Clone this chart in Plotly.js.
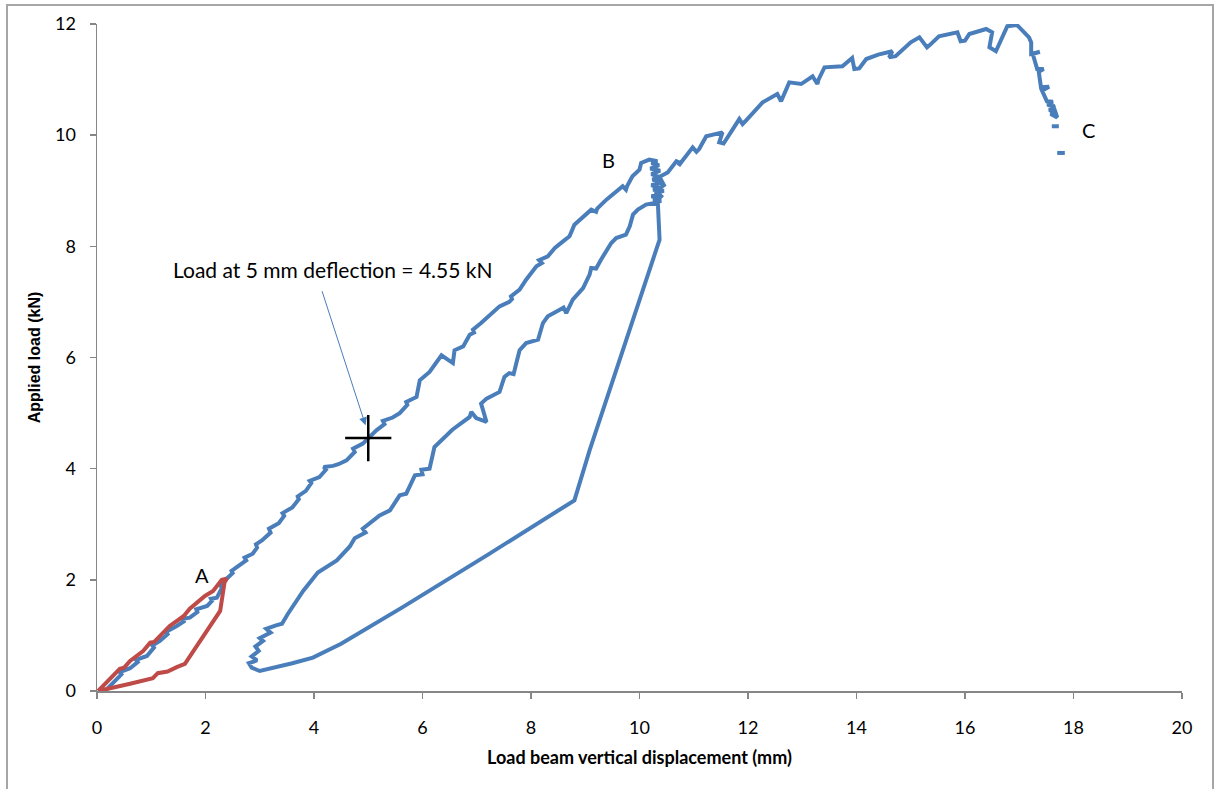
<!DOCTYPE html>
<html>
<head>
<meta charset="utf-8">
<script src="https://cdn.plot.ly/plotly-3.0.1.min.js"></script>
<style>
  html, body { margin: 0; padding: 0; background: #ffffff; overflow: hidden; }
  #chart { width: 1214px; height: 789px; }
  #frame { position: absolute; left: 6px; top: 4px; width: 1204px; height: 800px;
           border: 2px solid #a6a6a6; pointer-events: none; }
</style>
</head>
<body>
<div id="chart"></div>
<div id="frame"></div>
<script>
// ---- Data ----
// Main test (blue): load to B, unload, reload, load to peak and C
const blueX = [0.15,0.37,0.45,0.42,0.61,0.75,0.72,0.92,1.05,1.02,1.16,1.3,1.27,1.47,1.6,1.58,1.71,1.85,1.83,2.03,2.12,2.1,2.21,2.3,2.28,2.39,2.5,2.48,2.63,2.75,2.72,2.87,2.95,2.93,3.04,3.2,3.17,3.35,3.45,3.42,3.6,3.72,3.7,3.85,3.95,3.92,4.1,4.22,4.18,4.35,4.45,4.6,4.75,4.72,4.9,5.0,5.15,5.3,5.27,5.45,5.58,5.72,5.7,5.89,5.95,6.13,6.35,6.56,6.59,6.75,6.87,6.95,6.93,7.08,7.27,7.42,7.6,7.65,7.63,7.79,7.91,8.1,8.2,8.15,8.31,8.44,8.59,8.71,8.8,8.9,9.11,9.2,9.22,9.39,9.57,9.69,9.75,9.77,9.87,10.0,10.03,10.18,10.33,
  10.22,10.36,10.2,10.38,10.22,10.36,10.24,10.42,10.22,10.36,10.25,10.45,10.28,10.38,10.22,10.36,10.25,10.4,10.26,10.34,
  10.37,9.08,8.8,7.2,5.62,4.5,3.98,3.6,3.19,3.0,2.85,2.8,2.95,2.85,2.98,2.92,3.06,3.0,3.2,3.12,3.3,3.41,3.52,3.8,4.07,4.42,4.66,4.75,4.95,4.9,5.21,5.4,5.58,5.7,5.86,6.0,5.98,6.13,6.22,6.5,6.55,6.87,6.9,6.99,7.18,7.08,7.18,7.42,7.51,7.6,7.68,7.73,7.79,7.91,8.13,8.22,8.31,8.53,8.6,8.65,8.77,8.96,9.08,9.11,9.2,9.29,9.48,9.57,9.75,9.82,9.88,9.97,10.12,10.28,10.4,10.3,10.45,10.37,
  10.52,10.68,10.75,10.72,10.98,11.05,11.1,11.23,11.53,11.47,11.55,11.84,11.9,11.95,12.27,12.54,12.61,12.65,12.76,12.98,13.19,13.28,13.3,13.41,13.74,13.92,13.96,14.05,14.18,14.4,14.66,14.6,14.72,15.0,15.16,15.3,15.35,15.52,15.86,15.92,16.0,16.08,16.39,16.5,16.45,16.57,16.67,16.78,16.96,17.18,17.22,17.22,17.38,17.25,17.33,17.45,17.36,17.4,17.55,17.42,17.51,17.62,17.52,17.66,17.55,17.68,17.58,17.7,17.62,
  null,17.6,17.73,null,17.7,17.84];
const blueY = [0,0.23,0.3,0.34,0.41,0.52,0.56,0.63,0.78,0.82,0.9,1.02,1.06,1.17,1.25,1.3,1.32,1.42,1.47,1.53,1.62,1.66,1.68,1.85,1.9,2.02,2.12,2.16,2.26,2.35,2.4,2.47,2.58,2.64,2.71,2.85,2.92,3.02,3.15,3.2,3.3,3.45,3.5,3.6,3.74,3.78,3.85,3.98,4.03,4.05,4.08,4.15,4.3,4.36,4.45,4.55,4.69,4.8,4.86,4.92,5.0,5.15,5.2,5.29,5.59,5.74,6.04,5.9,6.13,6.2,6.41,6.45,6.5,6.62,6.8,6.92,7.0,7.05,7.1,7.22,7.4,7.64,7.7,7.75,7.82,7.97,8.09,8.18,8.39,8.48,8.66,8.62,8.68,8.84,8.99,9.08,9.02,9.08,9.26,9.38,9.5,9.56,9.53,
  9.5,9.46,9.4,9.36,9.3,9.25,9.2,9.15,9.1,9.05,9.02,9.0,8.96,8.93,8.9,8.87,8.84,8.82,8.78,8.75,
  8.12,4.33,3.43,2.45,1.5,0.85,0.6,0.5,0.4,0.36,0.42,0.5,0.55,0.62,0.72,0.8,0.9,0.95,1.05,1.12,1.18,1.21,1.39,1.8,2.13,2.35,2.6,2.75,2.85,2.92,3.16,3.25,3.52,3.55,3.88,3.9,3.98,4.0,4.39,4.64,4.7,4.93,5.02,4.91,4.84,5.17,5.26,5.38,5.65,5.72,5.7,5.9,6.13,6.26,6.32,6.62,6.74,6.86,6.9,6.8,7.04,7.25,7.49,7.61,7.6,7.76,8.06,8.15,8.21,8.36,8.57,8.66,8.75,8.78,8.9,9.0,9.1,9.25,
  9.33,9.53,9.5,9.45,9.78,9.7,9.75,9.98,10.05,9.87,9.85,10.29,10.2,10.25,10.59,10.74,10.61,10.7,10.95,10.92,11.06,10.92,11.0,11.22,11.24,11.39,11.19,11.2,11.37,11.45,11.51,11.4,11.42,11.67,11.76,11.58,11.62,11.78,11.85,11.69,11.7,11.82,11.91,11.85,11.58,11.51,11.73,11.96,11.98,11.76,11.67,11.46,11.5,11.46,11.19,11.19,11.14,10.86,10.87,10.8,10.61,10.6,10.55,10.5,10.45,10.42,10.38,10.32,10.55,
  null,10.16,10.16,null,9.68,9.68];

// First cycle (red): load to A and unload
const redX = [0.02,0.3,0.42,0.5,0.61,0.85,0.98,1.05,1.2,1.34,1.53,1.6,1.71,1.99,2.14,2.3,2.39,2.35,2.27,1.62,1.47,1.3,1.12,1.03,0.61,0.15,0.02];
const redY = [0,0.27,0.4,0.42,0.54,0.72,0.87,0.88,1.03,1.17,1.3,1.35,1.48,1.71,1.8,2.0,2.02,1.95,1.44,0.49,0.43,0.35,0.32,0.23,0.13,0.02,0];

// Marked point: load at 5 mm deflection
const markX = [5];
const markY = [4.55];

// Axes
const xTicks = [0,2,4,6,8,10,12,14,16,18,20];
const yTicks = [0,2,4,6,8,10,12];

// Labels
const pointLabels = [
  {text: 'A', x: 1.93, y: 2.09},
  {text: 'B', x: 9.43, y: 9.56},
  {text: 'C', x: 18.27, y: 10.1}
];
const noteText = 'Load at 5 mm deflection = 4.55 kN';
const notePos = {x: 4.35, y: 7.58};
const arrowTail = {x: 4.14, y: 7.22};
const arrowHead = {x: 4.95, y: 4.78};

// ---- Chart ----
const BLUE = '#4a7ebb';
const RED = '#be4b48';
const AXIS = '#868686';
const FONT = 'Lato, "Liberation Sans", sans-serif';

const traces = [
  {x: blueX, y: blueY, type: 'scatter', mode: 'lines', connectgaps: false,
   line: {color: BLUE, width: 4, shape: 'linear'}, hoverinfo: 'skip'},
  {x: redX, y: redY, type: 'scatter', mode: 'lines',
   line: {color: RED, width: 4}, hoverinfo: 'skip'},
  {x: markX, y: markY, type: 'scatter', mode: 'markers',
   marker: {symbol: 'cross-thin', size: 33, color: '#000000', line: {color: '#000000', width: 2.5}},
   hoverinfo: 'skip'}
];

const annotations = pointLabels.map(p => ({
  x: p.x, y: p.y, xref: 'x', yref: 'y', text: p.text, showarrow: false,
  font: {family: FONT, size: 20, color: '#000000'}
}));
annotations.push({
  x: notePos.x, y: notePos.y, xref: 'x', yref: 'y', text: noteText, showarrow: false,
  font: {family: FONT, size: 21, color: '#000000'}
});
annotations.push({
  x: arrowHead.x, y: arrowHead.y, xref: 'x', yref: 'y',
  ax: arrowTail.x, ay: arrowTail.y, axref: 'x', ayref: 'y',
  text: '', showarrow: true, arrowhead: 2, arrowsize: 1.6, arrowwidth: 1,
  arrowcolor: BLUE, standoff: 0
});

const layout = {
  width: 1214, height: 789,
  margin: {l: 97, r: 32, t: 24, b: 98, pad: 0},
  paper_bgcolor: '#ffffff', plot_bgcolor: '#ffffff',
  showlegend: false,
  font: {family: FONT, color: '#000000'},
  xaxis: {
    range: [0, 20], tickvals: xTicks, ticktext: xTicks.map(String),
    showgrid: false, zeroline: false, showline: true, linecolor: AXIS, linewidth: 1.5,
    ticks: 'outside', ticklen: 6, tickcolor: AXIS, tickwidth: 1.5,
    ticklabelstandoff: 14,
    tickfont: {family: FONT, size: 18, color: '#000000'},
    title: {text: 'Load beam vertical displacement (mm)', standoff: 14,
            font: {family: FONT, size: 18, color: '#000000', weight: 'bold'}},
    fixedrange: true
  },
  yaxis: {
    range: [0, 12], tickvals: yTicks, ticktext: yTicks.map(String),
    showgrid: false, zeroline: false, showline: true, linecolor: AXIS, linewidth: 1.5,
    ticks: 'outside', ticklen: 6, tickcolor: AXIS, tickwidth: 1.5,
    ticklabelstandoff: 10,
    tickfont: {family: FONT, size: 18, color: '#000000'},
    title: {text: 'Applied load (kN)', standoff: 10,
            font: {family: '"Liberation Sans", Arial, sans-serif', size: 16, color: '#000000', weight: 'bold'}},
    fixedrange: true
  },
  annotations: annotations
};

Plotly.newPlot('chart', traces, layout, {staticPlot: true, displayModeBar: false});
</script>
</body>
</html>
